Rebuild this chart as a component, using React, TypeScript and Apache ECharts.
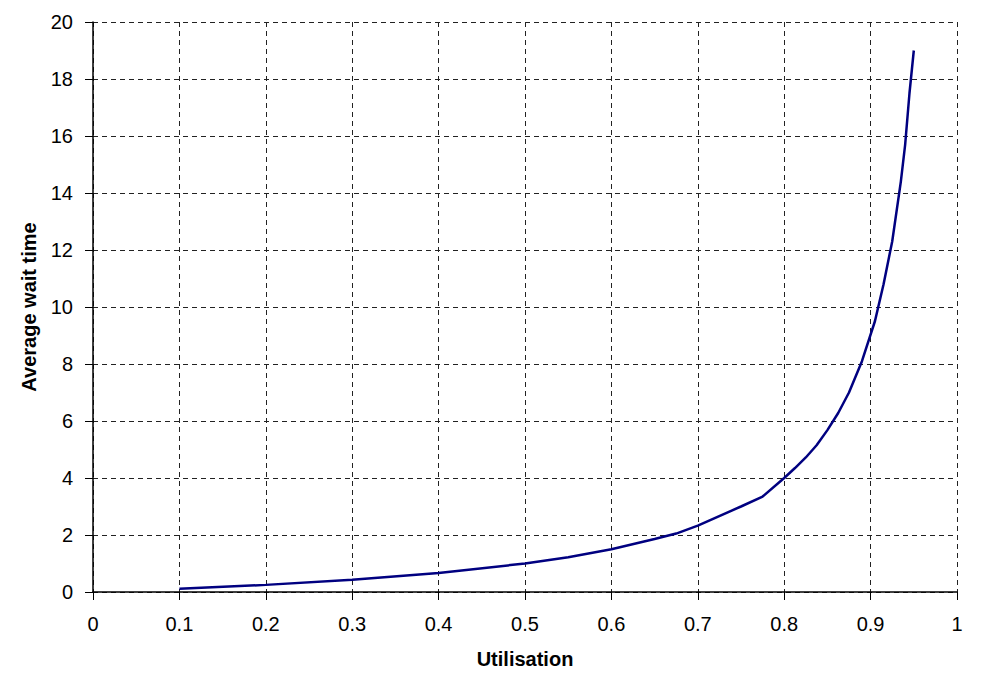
import React, { useEffect, useRef } from "react";
import * as echarts from "echarts";

const utilisation = [0.1, 0.2, 0.3, 0.4, 0.5, 0.55, 0.6, 0.65, 0.675, 0.7, 0.75, 0.775, 0.8, 0.8125, 0.825, 0.8375, 0.85, 0.8625, 0.875, 0.89, 0.905, 0.915, 0.925, 0.935, 0.94, 0.945, 0.95];
const waitTime = [0.11, 0.25, 0.43, 0.67, 1.0, 1.22, 1.5, 1.86, 2.05, 2.33, 3.0, 3.35, 4.0, 4.35, 4.72, 5.15, 5.68, 6.28, 7.0, 8.1, 9.5, 10.8, 12.3, 14.4, 15.7, 17.5, 19.0];

const xName = "Utilisation";
const yName = "Average wait time";

export default function App() {
  const ref = useRef<HTMLDivElement>(null);
  useEffect(() => {
    if (!ref.current) return;
    const chart = echarts.init(ref.current, null, { renderer: "svg" });
    const font = "Liberation Sans, Arial, sans-serif";
    const gridLine = { show: true, lineStyle: { color: "#222", type: [5, 4] as any, width: 1 } };
    chart.setOption({
      animation: false,
      backgroundColor: "#fff",
      grid: { left: 93, right: 27, top: 22, bottom: 96, containLabel: false },
      xAxis: {
        type: "value",
        min: 0,
        max: 1,
        interval: 0.1,
        name: xName,
        nameLocation: "middle",
        nameGap: 57,
        nameTextStyle: { fontFamily: font, fontSize: 20, fontWeight: "bold", color: "#000" },
        axisLine: { show: true, onZero: false, lineStyle: { color: "#000", width: 1.5 } },
        axisTick: { show: true, length: 8, lineStyle: { color: "#000" } },
        axisLabel: { fontFamily: font, fontSize: 20, color: "#000", margin: 22, formatter: (v: number) => String(Math.round(v * 10) / 10) },
        splitLine: gridLine,
      },
      yAxis: {
        type: "value",
        min: 0,
        max: 20,
        interval: 2,
        name: yName,
        nameLocation: "middle",
        nameGap: 54,
        nameTextStyle: { fontFamily: font, fontSize: 20, fontWeight: "bold", color: "#000" },
        axisLine: { show: true, lineStyle: { color: "#000", width: 1.5 } },
        axisTick: { show: true, length: 8, lineStyle: { color: "#000" } },
        axisLabel: { fontFamily: font, fontSize: 20, color: "#000", margin: 20 },
        splitLine: gridLine,
      },
      series: [
        {
          type: "line",
          data: utilisation.map((u, i) => [u, waitTime[i]]),
          showSymbol: false,
          smooth: false,
          lineStyle: { color: "#000080", width: 2.5 },
          itemStyle: { color: "#000080" },
        },
      ],
    });
    return () => chart.dispose();
  }, []);
  return <div ref={ref} style={{ width: 984, height: 688, position: "absolute", left: 0, top: 0 }} />;
}
